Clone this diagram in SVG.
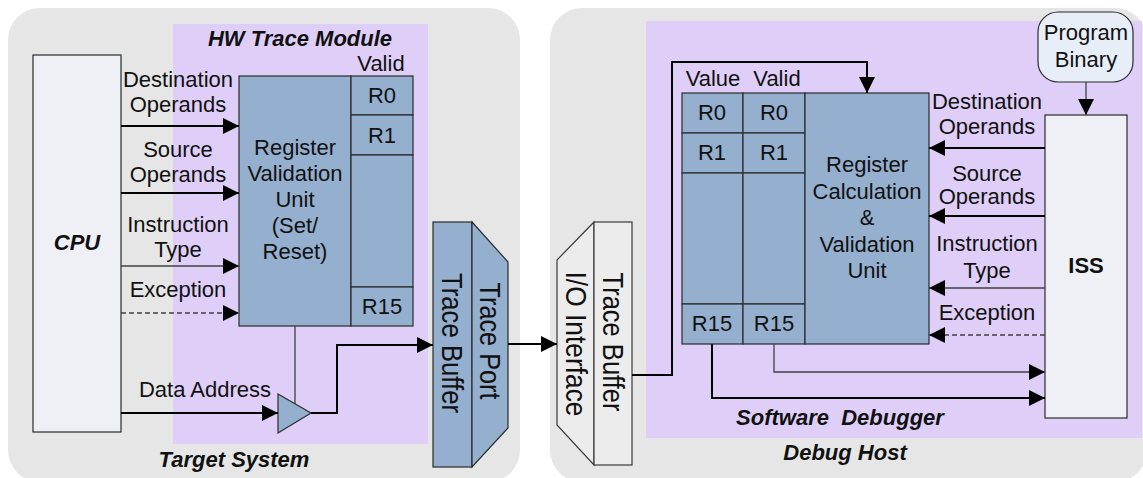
<svg xmlns="http://www.w3.org/2000/svg" width="1143" height="478" viewBox="0 0 1143 478">
  <defs>
    <marker id="arrow" markerUnits="userSpaceOnUse" markerWidth="16" markerHeight="16" refX="16" refY="8" orient="auto">
      <path d="M0,0 L16,8 L0,16 z" fill="#000"/>
    </marker>
    <style>
      .panel { fill: #e6e6e6; }
      .zone { fill: #dfcff8; }
      .blk { fill: #95afcf; stroke: #2b2b2b; stroke-width: 1.2; }
      .lite { fill: #eef0f6; stroke: #2b2b2b; stroke-width: 1.2; }
      .port { fill: #ececec; stroke: #3a3a3a; stroke-width: 1.2; }
      text { font-family: "Liberation Sans", Arial, sans-serif; font-size: 22px; fill: #111; }
      .c { text-anchor: middle; }
      .title { font-weight: bold; font-style: italic; text-anchor: middle; }
      .bold { font-weight: bold; text-anchor: middle; }
      .rot { font-size: 30px; text-anchor: middle; }
      .thick { fill: none; stroke: #000; stroke-width: 2; }
      .thin { fill: none; stroke: #404040; stroke-width: 1.3; }
      .dash { fill: none; stroke: #404040; stroke-width: 1.3; stroke-dasharray: 5 3; }
    </style>
  </defs>

  <!-- system panels -->
  <g id="target-system">
    <rect class="panel" x="8" y="8" width="512" height="474" rx="32"/>
    <rect class="zone" x="173" y="24" width="255" height="420"/>
    <text class="title" x="300" y="46">HW Trace Module</text>
    <text class="title" x="234" y="467">Target System</text>
  </g>
  <g id="debug-host">
    <rect class="panel" x="550" y="8" width="597" height="474" rx="32"/>
    <rect class="zone" x="646" y="21" width="496" height="417"/>
    <text class="title" x="840" y="425" xml:space="preserve">Software  Debugger</text>
    <text class="title" x="845" y="460">Debug Host</text>
  </g>

  <!-- CPU -->
  <g id="cpu">
    <rect class="lite" x="33" y="55" width="88" height="377"/>
    <text class="title" x="77" y="250">CPU</text>
  </g>

  <!-- register validation unit with valid bits -->
  <g id="reg-validation">
    <rect class="blk" x="239" y="76" width="112" height="250"/>
    <text class="c" x="295" y="155">Register</text>
    <text class="c" x="295" y="181">Validation</text>
    <text class="c" x="295" y="207">Unit</text>
    <text class="c" x="295" y="233">(Set/</text>
    <text class="c" x="295" y="259">Reset)</text>
  </g>
  <g id="valid-bits">
    <text class="c" x="381" y="71">Valid</text>
    <rect class="blk" x="351" y="76" width="62" height="39"/>
    <rect class="blk" x="351" y="115" width="62" height="40"/>
    <rect class="blk" x="351" y="155" width="62" height="132"/>
    <rect class="blk" x="351" y="287" width="62" height="39"/>
    <text class="c" x="382" y="103">R0</text>
    <text class="c" x="382" y="143">R1</text>
    <text class="c" x="382" y="314">R15</text>
  </g>

  <!-- tri-state buffer -->
  <g id="buffer">
    <path class="blk" d="M278,394 L311,413 L278,433 z"/>
  </g>

  <!-- trace port -->
  <g id="trace-port">
    <rect class="blk" x="433" y="222" width="39" height="245"/>
    <path class="blk" d="M472,222 L508,262 L508,428 L472,467 z"/>
    <text class="rot" transform="translate(452,343) rotate(90)" y="10.5" textLength="140" lengthAdjust="spacingAndGlyphs">Trace Buffer</text>
    <text class="rot" transform="translate(490,341) rotate(90)" y="10.5" textLength="117" lengthAdjust="spacingAndGlyphs">Trace Port</text>
  </g>

  <!-- I/O interface -->
  <g id="io-interface">
    <path class="port" d="M594,222 L557,260 L557,425 L594,465 z"/>
    <rect class="port" x="594" y="222" width="38" height="243"/>
    <text class="rot" transform="translate(576,344) rotate(90)" y="10.5" textLength="145" lengthAdjust="spacingAndGlyphs">I/O Interface</text>
    <text class="rot" transform="translate(613,342) rotate(90)" y="10.5" textLength="139" lengthAdjust="spacingAndGlyphs">Trace Buffer</text>
  </g>

  <!-- value / valid register file -->
  <g id="reg-file">
    <text class="c" x="713" y="86">Value</text>
    <text class="c" x="777" y="86">Valid</text>
    <rect class="blk" x="682" y="93" width="61" height="40"/>
    <rect class="blk" x="682" y="133" width="61" height="40"/>
    <rect class="blk" x="682" y="173" width="61" height="131"/>
    <rect class="blk" x="682" y="304" width="61" height="40"/>
    <rect class="blk" x="743" y="93" width="62" height="40"/>
    <rect class="blk" x="743" y="133" width="62" height="40"/>
    <rect class="blk" x="743" y="173" width="62" height="131"/>
    <rect class="blk" x="743" y="304" width="62" height="40"/>
    <text class="c" x="712" y="120">R0</text>
    <text class="c" x="774" y="120">R0</text>
    <text class="c" x="712" y="160">R1</text>
    <text class="c" x="774" y="160">R1</text>
    <text class="c" x="712" y="331">R15</text>
    <text class="c" x="774" y="331">R15</text>
  </g>

  <!-- register calculation and validation unit -->
  <g id="reg-calc">
    <rect class="blk" x="805" y="93" width="124" height="251"/>
    <text class="c" x="867" y="172">Register</text>
    <text class="c" x="867" y="199">Calculation</text>
    <text class="c" x="867" y="225">&amp;</text>
    <text class="c" x="867" y="252">Validation</text>
    <text class="c" x="867" y="278">Unit</text>
  </g>

  <!-- instruction set simulator -->
  <g id="iss">
    <rect class="lite" x="1045" y="115" width="82" height="303"/>
    <text class="bold" x="1086" y="273">ISS</text>
  </g>
  <g id="program-binary">
    <rect x="1038" y="12" width="95" height="70" rx="20" fill="#e8eef8" stroke="#2b2b2b" stroke-width="1.2"/>
    <text class="c" x="1086" y="40">Program</text>
    <text class="c" x="1086" y="67">Binary</text>
  </g>

  <!-- edge labels -->
  <g id="labels">
    <text class="c" x="178" y="87">Destination</text>
    <text class="c" x="178" y="112">Operands</text>
    <text class="c" x="178" y="157">Source</text>
    <text class="c" x="178" y="182">Operands</text>
    <text class="c" x="178" y="232">Instruction</text>
    <text class="c" x="178" y="257">Type</text>
    <text class="c" x="178" y="297">Exception</text>
    <text class="c" x="205" y="397">Data Address</text>
    <text class="c" x="987" y="109">Destination</text>
    <text class="c" x="987" y="134">Operands</text>
    <text class="c" x="987" y="181">Source</text>
    <text class="c" x="987" y="204">Operands</text>
    <text class="c" x="987" y="251">Instruction</text>
    <text class="c" x="987" y="278">Type</text>
    <text class="c" x="987" y="320">Exception</text>
  </g>

  <!-- connectors -->
  <g id="connectors">
    <path class="thick" d="M121,126 H239" marker-end="url(#arrow)"/>
    <path class="thick" d="M121,193 H239" marker-end="url(#arrow)"/>
    <path class="thin" d="M121,266 H239" marker-end="url(#arrow)"/>
    <path class="dash" d="M121,313 H239" marker-end="url(#arrow)"/>
    <path class="thick" d="M121,413 H278" marker-end="url(#arrow)"/>
    <path class="thin" d="M295,326 V404"/>
    <path class="thick" d="M311,413 H337 V345 H433" marker-end="url(#arrow)"/>
    <path class="thick" d="M508,344 H557" marker-end="url(#arrow)"/>
    <path class="thick" d="M632,375 H672 V62 H867 V93" marker-end="url(#arrow)"/>
    <path class="thick" d="M1045,148 H929" marker-end="url(#arrow)"/>
    <path class="thick" d="M1045,216 H929" marker-end="url(#arrow)"/>
    <path class="thin" d="M1045,288 H929" marker-end="url(#arrow)"/>
    <path class="dash" d="M1045,335 H929" marker-end="url(#arrow)"/>
    <path class="thin" d="M1086,82 V115" marker-end="url(#arrow)"/>
    <path class="thin" d="M774,344 V372 H1045" marker-end="url(#arrow)"/>
    <path class="thick" d="M712,344 V398 H1045" marker-end="url(#arrow)"/>
  </g>
</svg>
